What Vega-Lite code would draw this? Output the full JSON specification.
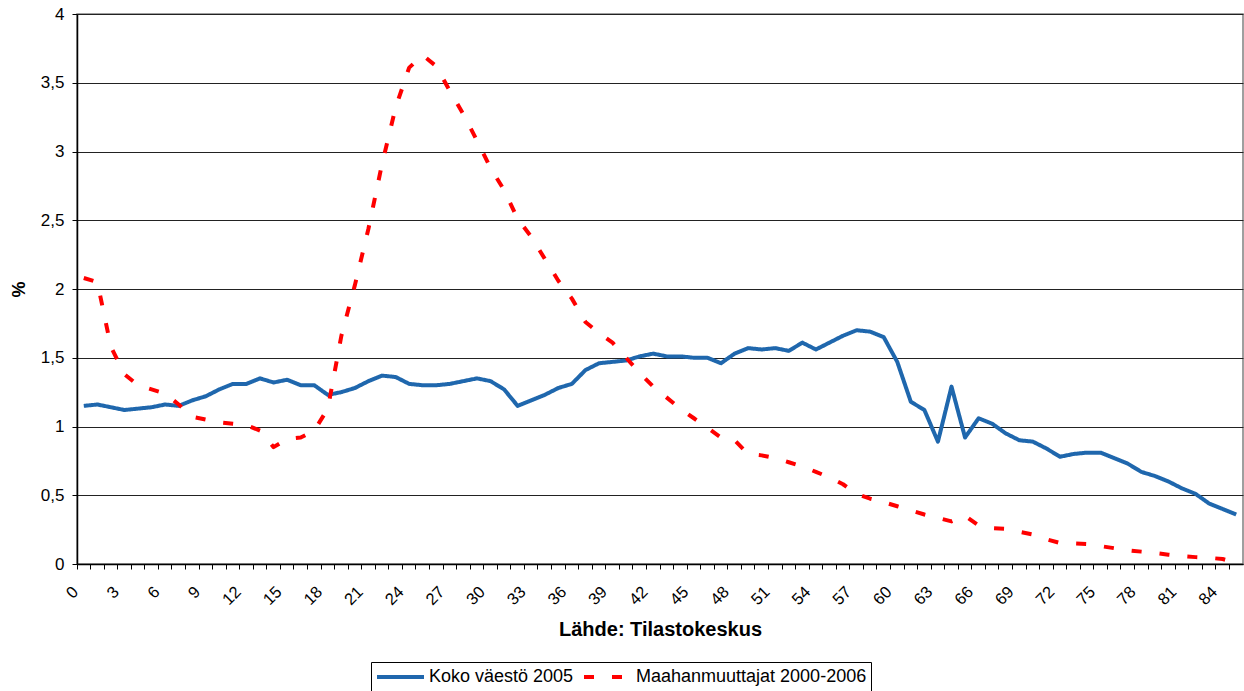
{
  "$schema": "https://vega.github.io/schema/vega-lite/v6.json",
  "width": 1166,
  "height": 550,
  "autosize": {"type": "none"},
  "padding": {"left": 77, "top": 14, "right": 1, "bottom": 127},
  "background": "white",
  "config": {
    "font": "Liberation Sans",
    "view": {"stroke": "#808080", "strokeWidth": 1.5},
    "axis": {"labelFont": "Liberation Sans", "titleFont": "Liberation Sans", "labelColor": "black", "titleColor": "black", "domainColor": "black", "tickColor": "black"}
  },
  "data": {
    "values": [
      {"ika": 0, "Koko väestö 2005": 1.15, "Maahanmuuttajat 2000-2006": 2.08},
      {"ika": 1, "Koko väestö 2005": 1.16, "Maahanmuuttajat 2000-2006": 2.05},
      {"ika": 2, "Koko väestö 2005": 1.14, "Maahanmuuttajat 2000-2006": 1.58},
      {"ika": 3, "Koko väestö 2005": 1.12, "Maahanmuuttajat 2000-2006": 1.38},
      {"ika": 4, "Koko väestö 2005": 1.13, "Maahanmuuttajat 2000-2006": 1.30},
      {"ika": 5, "Koko väestö 2005": 1.14, "Maahanmuuttajat 2000-2006": 1.27},
      {"ika": 6, "Koko väestö 2005": 1.16, "Maahanmuuttajat 2000-2006": 1.24},
      {"ika": 7, "Koko väestö 2005": 1.15, "Maahanmuuttajat 2000-2006": 1.16},
      {"ika": 8, "Koko väestö 2005": 1.19, "Maahanmuuttajat 2000-2006": 1.07},
      {"ika": 9, "Koko väestö 2005": 1.22, "Maahanmuuttajat 2000-2006": 1.05},
      {"ika": 10, "Koko väestö 2005": 1.27, "Maahanmuuttajat 2000-2006": 1.03},
      {"ika": 11, "Koko väestö 2005": 1.31, "Maahanmuuttajat 2000-2006": 1.02},
      {"ika": 12, "Koko väestö 2005": 1.31, "Maahanmuuttajat 2000-2006": 1.01},
      {"ika": 13, "Koko väestö 2005": 1.35, "Maahanmuuttajat 2000-2006": 0.97},
      {"ika": 14, "Koko väestö 2005": 1.32, "Maahanmuuttajat 2000-2006": 0.85},
      {"ika": 15, "Koko väestö 2005": 1.34, "Maahanmuuttajat 2000-2006": 0.91},
      {"ika": 16, "Koko väestö 2005": 1.30, "Maahanmuuttajat 2000-2006": 0.92},
      {"ika": 17, "Koko väestö 2005": 1.30, "Maahanmuuttajat 2000-2006": 0.97},
      {"ika": 18, "Koko väestö 2005": 1.23, "Maahanmuuttajat 2000-2006": 1.13},
      {"ika": 19, "Koko väestö 2005": 1.25, "Maahanmuuttajat 2000-2006": 1.66},
      {"ika": 20, "Koko väestö 2005": 1.28, "Maahanmuuttajat 2000-2006": 2.03},
      {"ika": 21, "Koko väestö 2005": 1.33, "Maahanmuuttajat 2000-2006": 2.44},
      {"ika": 22, "Koko väestö 2005": 1.37, "Maahanmuuttajat 2000-2006": 2.91},
      {"ika": 23, "Koko väestö 2005": 1.36, "Maahanmuuttajat 2000-2006": 3.32},
      {"ika": 24, "Koko väestö 2005": 1.31, "Maahanmuuttajat 2000-2006": 3.61},
      {"ika": 25, "Koko väestö 2005": 1.30, "Maahanmuuttajat 2000-2006": 3.70},
      {"ika": 26, "Koko väestö 2005": 1.30, "Maahanmuuttajat 2000-2006": 3.62},
      {"ika": 27, "Koko väestö 2005": 1.31, "Maahanmuuttajat 2000-2006": 3.44},
      {"ika": 28, "Koko väestö 2005": 1.33, "Maahanmuuttajat 2000-2006": 3.27},
      {"ika": 29, "Koko väestö 2005": 1.35, "Maahanmuuttajat 2000-2006": 3.08},
      {"ika": 30, "Koko väestö 2005": 1.33, "Maahanmuuttajat 2000-2006": 2.88},
      {"ika": 31, "Koko väestö 2005": 1.27, "Maahanmuuttajat 2000-2006": 2.72},
      {"ika": 32, "Koko väestö 2005": 1.15, "Maahanmuuttajat 2000-2006": 2.51},
      {"ika": 33, "Koko väestö 2005": 1.19, "Maahanmuuttajat 2000-2006": 2.38},
      {"ika": 34, "Koko väestö 2005": 1.23, "Maahanmuuttajat 2000-2006": 2.22},
      {"ika": 35, "Koko väestö 2005": 1.28, "Maahanmuuttajat 2000-2006": 2.06},
      {"ika": 36, "Koko väestö 2005": 1.31, "Maahanmuuttajat 2000-2006": 1.93},
      {"ika": 37, "Koko väestö 2005": 1.41, "Maahanmuuttajat 2000-2006": 1.76},
      {"ika": 38, "Koko väestö 2005": 1.46, "Maahanmuuttajat 2000-2006": 1.68},
      {"ika": 39, "Koko väestö 2005": 1.47, "Maahanmuuttajat 2000-2006": 1.61},
      {"ika": 40, "Koko väestö 2005": 1.48, "Maahanmuuttajat 2000-2006": 1.50},
      {"ika": 41, "Koko väestö 2005": 1.51, "Maahanmuuttajat 2000-2006": 1.39},
      {"ika": 42, "Koko väestö 2005": 1.53, "Maahanmuuttajat 2000-2006": 1.29},
      {"ika": 43, "Koko väestö 2005": 1.51, "Maahanmuuttajat 2000-2006": 1.21},
      {"ika": 44, "Koko väestö 2005": 1.51, "Maahanmuuttajat 2000-2006": 1.13},
      {"ika": 45, "Koko väestö 2005": 1.50, "Maahanmuuttajat 2000-2006": 1.06},
      {"ika": 46, "Koko väestö 2005": 1.50, "Maahanmuuttajat 2000-2006": 0.99},
      {"ika": 47, "Koko väestö 2005": 1.46, "Maahanmuuttajat 2000-2006": 0.92},
      {"ika": 48, "Koko väestö 2005": 1.53, "Maahanmuuttajat 2000-2006": 0.90},
      {"ika": 49, "Koko väestö 2005": 1.57, "Maahanmuuttajat 2000-2006": 0.80},
      {"ika": 50, "Koko väestö 2005": 1.56, "Maahanmuuttajat 2000-2006": 0.79},
      {"ika": 51, "Koko väestö 2005": 1.57, "Maahanmuuttajat 2000-2006": 0.77},
      {"ika": 52, "Koko väestö 2005": 1.55, "Maahanmuuttajat 2000-2006": 0.74},
      {"ika": 53, "Koko väestö 2005": 1.61, "Maahanmuuttajat 2000-2006": 0.71},
      {"ika": 54, "Koko väestö 2005": 1.56, "Maahanmuuttajat 2000-2006": 0.67},
      {"ika": 55, "Koko väestö 2005": 1.61, "Maahanmuuttajat 2000-2006": 0.63},
      {"ika": 56, "Koko väestö 2005": 1.66, "Maahanmuuttajat 2000-2006": 0.58},
      {"ika": 57, "Koko väestö 2005": 1.70, "Maahanmuuttajat 2000-2006": 0.51},
      {"ika": 58, "Koko väestö 2005": 1.69, "Maahanmuuttajat 2000-2006": 0.475},
      {"ika": 59, "Koko väestö 2005": 1.65, "Maahanmuuttajat 2000-2006": 0.45},
      {"ika": 60, "Koko väestö 2005": 1.47, "Maahanmuuttajat 2000-2006": 0.42},
      {"ika": 61, "Koko väestö 2005": 1.18, "Maahanmuuttajat 2000-2006": 0.39},
      {"ika": 62, "Koko väestö 2005": 1.12, "Maahanmuuttajat 2000-2006": 0.36},
      {"ika": 63, "Koko väestö 2005": 0.89, "Maahanmuuttajat 2000-2006": 0.335},
      {"ika": 64, "Koko väestö 2005": 1.29, "Maahanmuuttajat 2000-2006": 0.31},
      {"ika": 65, "Koko väestö 2005": 0.92, "Maahanmuuttajat 2000-2006": 0.35},
      {"ika": 66, "Koko väestö 2005": 1.06, "Maahanmuuttajat 2000-2006": 0.28},
      {"ika": 67, "Koko väestö 2005": 1.02, "Maahanmuuttajat 2000-2006": 0.26},
      {"ika": 68, "Koko väestö 2005": 0.95, "Maahanmuuttajat 2000-2006": 0.255},
      {"ika": 69, "Koko väestö 2005": 0.90, "Maahanmuuttajat 2000-2006": 0.235},
      {"ika": 70, "Koko väestö 2005": 0.89, "Maahanmuuttajat 2000-2006": 0.215},
      {"ika": 71, "Koko väestö 2005": 0.84, "Maahanmuuttajat 2000-2006": 0.18},
      {"ika": 72, "Koko väestö 2005": 0.78, "Maahanmuuttajat 2000-2006": 0.153},
      {"ika": 73, "Koko väestö 2005": 0.80, "Maahanmuuttajat 2000-2006": 0.15},
      {"ika": 74, "Koko väestö 2005": 0.81, "Maahanmuuttajat 2000-2006": 0.145},
      {"ika": 75, "Koko väestö 2005": 0.81, "Maahanmuuttajat 2000-2006": 0.13},
      {"ika": 76, "Koko väestö 2005": 0.77, "Maahanmuuttajat 2000-2006": 0.115},
      {"ika": 77, "Koko väestö 2005": 0.73, "Maahanmuuttajat 2000-2006": 0.10},
      {"ika": 78, "Koko väestö 2005": 0.67, "Maahanmuuttajat 2000-2006": 0.09},
      {"ika": 79, "Koko väestö 2005": 0.64, "Maahanmuuttajat 2000-2006": 0.08},
      {"ika": 80, "Koko väestö 2005": 0.60, "Maahanmuuttajat 2000-2006": 0.068},
      {"ika": 81, "Koko väestö 2005": 0.55, "Maahanmuuttajat 2000-2006": 0.057},
      {"ika": 82, "Koko väestö 2005": 0.51, "Maahanmuuttajat 2000-2006": 0.05},
      {"ika": 83, "Koko väestö 2005": 0.44, "Maahanmuuttajat 2000-2006": 0.045},
      {"ika": 84, "Koko väestö 2005": 0.40, "Maahanmuuttajat 2000-2006": 0.036},
      {"ika": 85, "Koko väestö 2005": 0.36, "Maahanmuuttajat 2000-2006": 0.01}
    ]
  },
  "transform": [
    {"fold": ["Koko väestö 2005", "Maahanmuuttajat 2000-2006"], "as": ["sarja", "osuus"]}
  ],
  "mark": {"type": "line", "strokeWidth": 4, "strokeCap": "butt", "strokeJoin": "round"},
  "encoding": {
    "x": {
      "field": "ika",
      "type": "ordinal",
      "sort": "ascending",
      "scale": {"type": "band", "paddingInner": 0, "paddingOuter": 0},
      "axis": {
        "title": "Lähde: Tilastokeskus",
        "titleFontSize": 20,
        "titleFontWeight": "bold",
        "titlePadding": 12,
        "bandPosition": 0,
        "labelAngle": -45,
        "labelAlign": "right",
        "labelBaseline": "middle",
        "labelOffset": -8,
        "labelPadding": 20,
        "labelFontSize": 16.5,
        "labelOverlap": false,
        "labelExpr": "datum.value % 3 === 0 ? datum.label : ''",
        "tickSize": 5,
        "tickWidth": 1,
        "domainWidth": 1.5,
        "grid": false
      }
    },
    "y": {
      "field": "osuus",
      "type": "quantitative",
      "scale": {"domain": [0, 4], "nice": false, "zero": true},
      "axis": {
        "title": "%",
        "titleFontSize": 18,
        "titleFontWeight": "bold",
        "titlePadding": 12,
        "values": [0, 0.5, 1, 1.5, 2, 2.5, 3, 3.5, 4],
        "labelExpr": "replace(format(datum.value, '~g'), '.', ',')",
        "labelFontSize": 17,
        "labelPadding": 8,
        "tickSize": 5,
        "domainWidth": 1.5,
        "grid": true,
        "gridColor": "#222222",
        "gridWidth": 1,
        "gridOpacity": 1
      }
    },
    "color": {
      "field": "sarja",
      "type": "nominal",
      "scale": {"domain": ["Koko väestö 2005", "Maahanmuuttajat 2000-2006"], "range": ["#1f67ad", "#ff0000"]},
      "legend": {
        "title": null,
        "orient": "none",
        "direction": "horizontal",
        "legendX": 294,
        "legendY": 648,
        "padding": 4,
        "strokeColor": "black",
        "fillColor": "white",
        "symbolType": "stroke",
        "symbolSize": 2209,
        "symbolStrokeWidth": 4,
        "clipHeight": 22,
        "labelFont": "Liberation Sans",
        "labelFontSize": 18,
        "labelColor": "black",
        "labelOffset": 3,
        "columnPadding": 8,
        "labelLimit": 400
      }
    },
    "strokeDash": {
      "field": "sarja",
      "type": "nominal",
      "scale": {"domain": ["Koko väestö 2005", "Maahanmuuttajat 2000-2006"], "range": [[1, 0], [10, 18]]},
      "legend": {
        "title": null,
        "orient": "none",
        "direction": "horizontal",
        "legendX": 294,
        "legendY": 648,
        "padding": 4,
        "strokeColor": "black",
        "fillColor": "white",
        "symbolType": "stroke",
        "symbolSize": 2209,
        "symbolStrokeWidth": 4,
        "clipHeight": 22,
        "labelFont": "Liberation Sans",
        "labelFontSize": 18,
        "labelColor": "black",
        "labelOffset": 3,
        "columnPadding": 8,
        "labelLimit": 400
      }
    }
  }
}
